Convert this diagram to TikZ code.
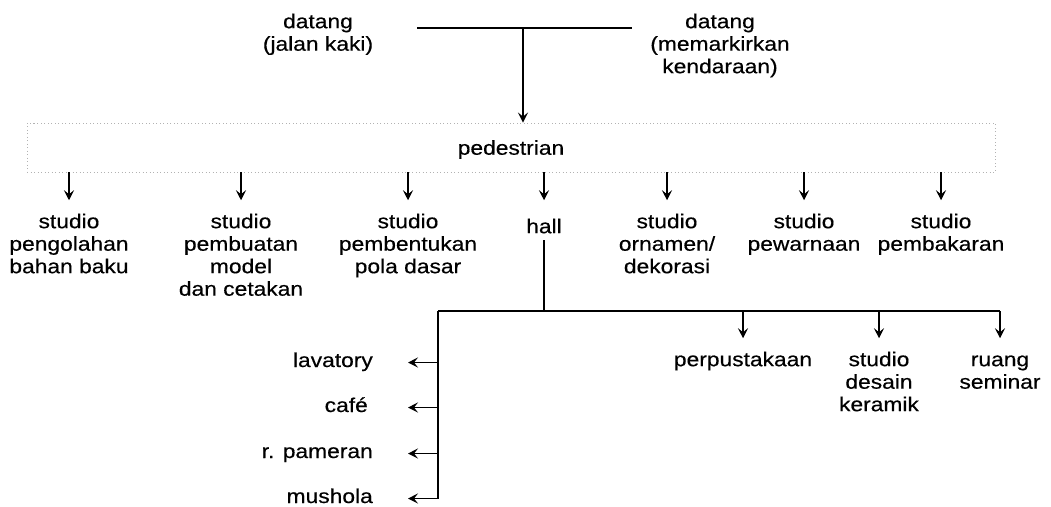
\documentclass[tikz,border=0pt]{standalone}
\usepackage{fontspec}
\setmainfont[FakeStretch=1.14,FakeBold=0.4]{Liberation Sans}
\usetikzlibrary{arrows.meta}
\begin{document}
\begin{tikzpicture}[x=1pt,y=-1pt,
  lbl/.style={font=\fontsize{20}{22.5}\selectfont, align=center, inner sep=0pt, anchor=north},
  side/.style={font=\fontsize{20}{22.5}\selectfont, inner sep=0pt, anchor=base east},
  ln/.style={line width=1.8pt, line cap=butt},
  arr/.style={line width=1.7pt, -{Stealth[length=10pt,width=10pt,inset=4pt]}},
  topline/.style={line width=2.6pt}]
\path[use as bounding box] (0,0) rectangle (1051,506);

% top
\node[lbl] (dtl) at (318,12.25) {\strut datang\\(jalan kaki)};
\node[lbl] (dtr) at (720,12.25) {\strut datang\\(memarkirkan\\kendaraan)};
\coordinate (tl) at (417,28);
\coordinate (tr) at (632,28);
\coordinate (tm) at (523,28);

% pedestrian box
\node[draw=gray!60, dash pattern=on 1pt off 2.5pt, line width=0.9pt,
      minimum width=968pt, minimum height=49pt, inner sep=0pt,
      font=\fontsize{20}{22.5}\selectfont, text depth=0pt] (ped) at (511,147.5) {pedestrian};

\draw[topline] (tl) -- (tr);
\draw[arr, line width=1.5pt] (tm) -- (tm |- ped.north);

% studios
\node[lbl] (s1) at (69,212.25) {\strut studio\\pengolahan\\bahan baku};
\node[lbl] (s2) at (241,212.25) {\strut studio\\pembuatan\\model\\dan cetakan};
\node[lbl] (s3) at (408,212.25) {\strut studio\\pembentukan\\pola dasar};
\node[lbl] (hall) at (544,217.25) {\strut hall};
\node[lbl] (s5) at (667,212.25) {\strut studio\\ornamen/\\dekorasi};
\node[lbl] (s6) at (804,212.25) {\strut studio\\pewarnaan};
\node[lbl] (s7) at (941,212.25) {\strut studio\\pembakaran};

\foreach \n in {s1,s2,s3,s5,s6,s7}
  \draw[arr] (ped.south -| \n.north) -- ([yshift=12pt]\n.north);
\draw[arr] (ped.south -| hall.north) -- ([yshift=17pt]hall.north);

% hall branches
\node[lbl] (perp) at (743,350.25) {\strut perpustakaan};
\node[lbl] (sdk) at (879,350.25) {\strut studio\\desain\\keramik};
\node[lbl] (rs) at (1000,350.25) {\strut ruang\\seminar};

\node[side] (lav) at (373,367) {\strut lavatory};
\node[side] (cafe) at (368,412) {\strut café};
\node[side] (pam) at (373,458) {\strut r. pameran};
\node[side] (mush) at (373,503) {\strut mushola};

\coordinate (lc) at (438,311);
\coordinate (rc) at (rs.north |- lc);

\draw[ln] (hall.south) -- (hall.south |- lc);
\draw[ln] (lc) -- (rc);
\draw[arr] (rc) -- ([yshift=12pt]rs.north);
\draw[arr] (perp.north |- lc) -- ([yshift=12pt]perp.north);
\draw[arr] (sdk.north |- lc) -- ([yshift=12pt]sdk.north);
\draw[arr, line width=1.8pt] (lc) -- (lc |- mush.east) -- ([xshift=35pt]mush.east);
\draw[arr] (lav.east -| lc) -- ([xshift=35pt]lav.east);
\draw[arr] (cafe.east -| lc) -- ([xshift=40pt]cafe.east);
\draw[arr] (pam.east -| lc) -- ([xshift=35pt]pam.east);
\end{tikzpicture}
\end{document}
